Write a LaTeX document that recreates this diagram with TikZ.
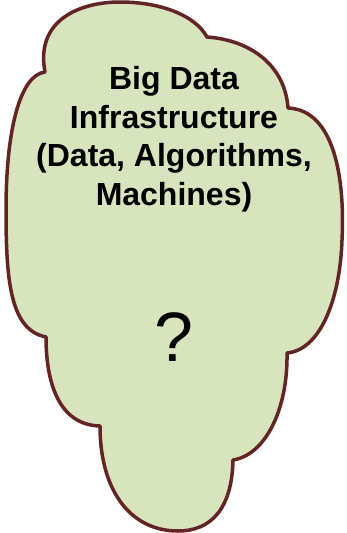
\documentclass[tikz,border=0pt]{standalone}
\usepackage{fontspec}
\setmainfont{Liberation Sans}
\usepackage{xcolor}
\definecolor{cloudfill}{RGB}{215,228,189}
\definecolor{cloudline}{RGB}{99,37,35}
\usepackage{tikz}
\usetikzlibrary{positioning}

\begin{document}
\begin{tikzpicture}[x=1pt, y=-1pt,
  cloud/.style={draw=cloudline, fill=cloudfill, line width=3.5pt, line join=round},
  title/.style={font=\fontsize{32}{38.5}\selectfont\bfseries, align=center, inner sep=0pt},
  qmark/.style={font=\fontsize{70}{70}\selectfont, inner sep=0pt}
]
\useasboundingbox (0,0) rectangle (347,533);
% cloud outline, one lobe after the other, clockwise from the top-left dent
\path[cloud] (45,72)
  .. controls (35,20) and (80,2) .. (120,2)
  .. controls (160,2) and (195,15) .. (207,37)
  .. controls (250,40) and (285,65) .. (288,108)
  .. controls (335,110) and (345,180) .. (342,240)
  .. controls (340,300) and (320,350) .. (287,353)
  .. controls (288,410) and (265,455) .. (233,460)
  .. controls (232,510) and (210,531) .. (178,531)
  .. controls (130,531) and (100,490) .. (100,426)
  .. controls (60,425) and (46,385) .. (46,337)
  .. controls (10,330) and (6,280) .. (6,210)
  .. controls (6,130) and (20,75) .. (45,72)
  -- cycle;
\node[title] (title) at (174,139) {Big Data\\Infrastructure\\(Data, Algorithms,\\Machines)};
\node[qmark] (query) at (174,337) {?};
\end{tikzpicture}
\end{document}
